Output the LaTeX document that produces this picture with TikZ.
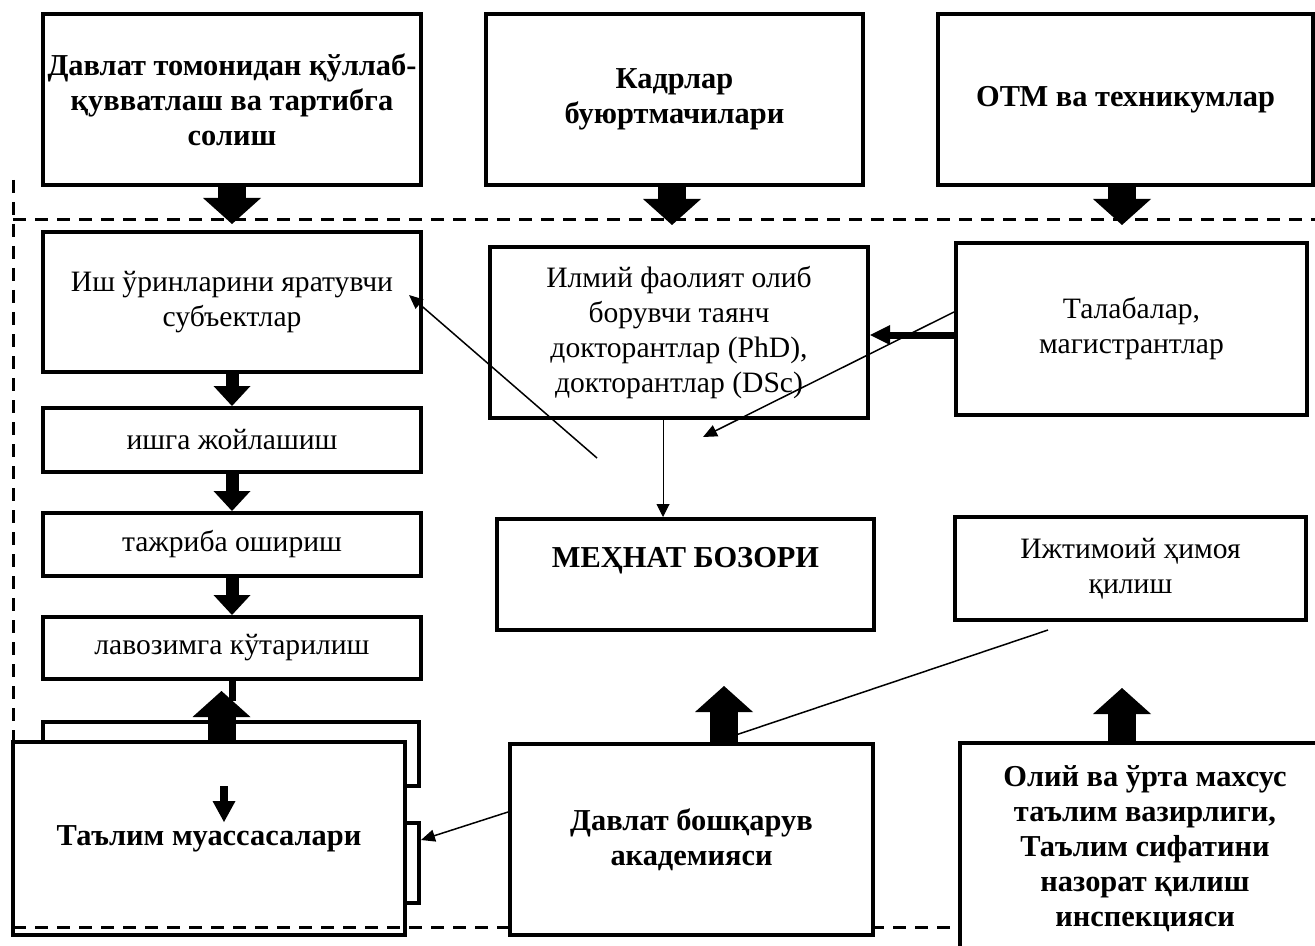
\documentclass[tikz,border=0pt]{standalone}
\usepackage{fontspec}
\setmainfont{Liberation Serif}
\usetikzlibrary{arrows.meta,positioning}

\begin{document}
\begin{tikzpicture}[
    x=0.5pt, y=-0.5pt,
    box/.style={draw, line width=2pt, fill=white, align=center, inner sep=2pt, font=\fontsize{14.8}{17.5}\selectfont},
    bbox/.style={box, font=\fontsize{15.2}{17.5}\selectfont\bfseries},
    frame/.style={line width=1.5pt, dash pattern=on 6.5pt off 4.5pt},
    bigarrow/.style={line width=14pt, -{Triangle[length=13pt, width=29pt, line width=0pt]}},
    smallarrow/.style={line width=6.5pt, -{Triangle[length=10pt, width=18.5pt, line width=0pt]}},
    thickarrow/.style={line width=3.5pt, -{Triangle[length=10pt, width=10pt, line width=0pt]}},
    link/.style={line width=0.75pt, -{Triangle[length=7pt, width=6pt]}}
]
\useasboundingbox (0,0) rectangle (1315,946);
\clip (0,0) rectangle (1315,946);

\node[bbox, minimum width=189pt, minimum height=85.5pt] (gov) at (232,99.5) {Давлат томонидан қўллаб-\\қувватлаш ва тартибга\\солиш};
\node[bbox, minimum width=188.5pt, minimum height=85.5pt] (cust) at (674.5,99.5) {Кадрлар\\буюртмачилари};
\node[bbox, minimum width=187.5pt, minimum height=85.5pt] (uni) at (1125.5,99.5) {ОТМ ва техникумлар};

\draw[frame] (13,180) -- (13,742);
\draw[frame] (13,220) -- (1315,220);

\draw[bigarrow] (gov.south) -- ++(0,37);
\draw[bigarrow] ([xshift=-1.25pt]cust.south) -- ++(0,38);
\draw[bigarrow] ([xshift=-1.75pt]uni.south) -- ++(0,38);

\node[box, minimum width=189pt, minimum height=70pt] (jobs) at (232,302) {Иш ўринларини яратувчи\\субъектлар};
\node[box, minimum width=189pt, minimum height=32pt, below=16pt of jobs] (hire) {ишга жойлашиш};
\node[box, minimum width=189pt, minimum height=31.5pt, below=18.5pt of hire] (exp) {тажриба ошириш};
\node[box, minimum width=189pt, minimum height=31pt, below=18.5pt of exp] (promo) {лавозимга кўтарилиш};

\draw[smallarrow] (jobs) -- (hire);
\draw[smallarrow] (hire) -- (exp);
\draw[smallarrow] (exp) -- (promo);
\draw[line width=3.5pt] (promo.south) -- ++(0,20);

\node[box, minimum width=188pt, minimum height=32pt] (edua) at (231,754) {};
\node[box, minimum width=59.5pt, minimum height=40pt] (edub) at (359.5,863) {};
\node[bbox, minimum width=196pt, minimum height=96.5pt] (edu) at (209,838.5) {Таълим муассасалари};
\draw[bigarrow] ([xshift=6.25pt]edu.north) -- ++(0,-49);
\draw[line width=4pt, -{Triangle[length=10.5pt, width=11.5pt, line width=0pt]}] ([xshift=7.5pt, yshift=-23pt]edu.north) -- ++(0,36);

\draw[frame] (13,927) -- (960,927);

\node[box, minimum width=189pt, minimum height=85.5pt] (sci) at (679,332.5) {Илмий фаолият олиб\\борувчи таянч\\докторантлар (PhD),\\докторантлар (DSc)};
\node[box, minimum width=175.5pt, minimum height=86pt] (stud) at (1131.5,329) {Талабалар,\\магистрантлар};
\node[bbox, minimum width=188.5pt, minimum height=55.5pt] (market) at (685.5,574.5) {МЕҲНАТ БОЗОРИ\\\mbox{}};
\node[box, minimum width=175.5pt, minimum height=51.5pt] (social) at (1130.5,568.5) {Ижтимоий ҳимоя\\қилиш};
\node[bbox, minimum width=181.5pt, minimum height=95.5pt] (acad) at (691.5,839.5) {Давлат бошқарув\\академияси};
\node[bbox, minimum width=185pt, minimum height=106pt] (minis) at (1145,849) {Олий ва ўрта махсус\\таълим вазирлиги,\\Таълим сифатини\\назорат қилиш\\инспекцияси};

\coordinate (c1) at (703,437);
\coordinate (c2) at (597,458);
\coordinate (c3) at (1048,630);

\draw[thickarrow] ([yshift=-3pt]stud.west) -- ([yshift=-3pt]sci.east |- stud.west);
\draw[link] ([yshift=8.5pt]stud.west) -- (c1);
\draw[link] (c2) -- ([xshift=-7pt, yshift=3.5pt]jobs.east);
\draw[line width=0.5pt, -{Triangle[length=6.5pt, width=6.5pt]}] ([xshift=-8pt]sci.south) -- ([xshift=-8pt]sci.south |- market.north);
\draw[line width=0.75pt] (c3) -- ([xshift=11.75pt]acad.north);
\draw[link] ([yshift=13.75pt]acad.west) -- ([yshift=11.5pt]edub.east);
\draw[bigarrow] ([xshift=16.25pt]acad.north) -- ++(0,-56);
\draw[bigarrow] ([xshift=-11.5pt]minis.north) -- ++(0,-53);
\end{tikzpicture}
\end{document}
